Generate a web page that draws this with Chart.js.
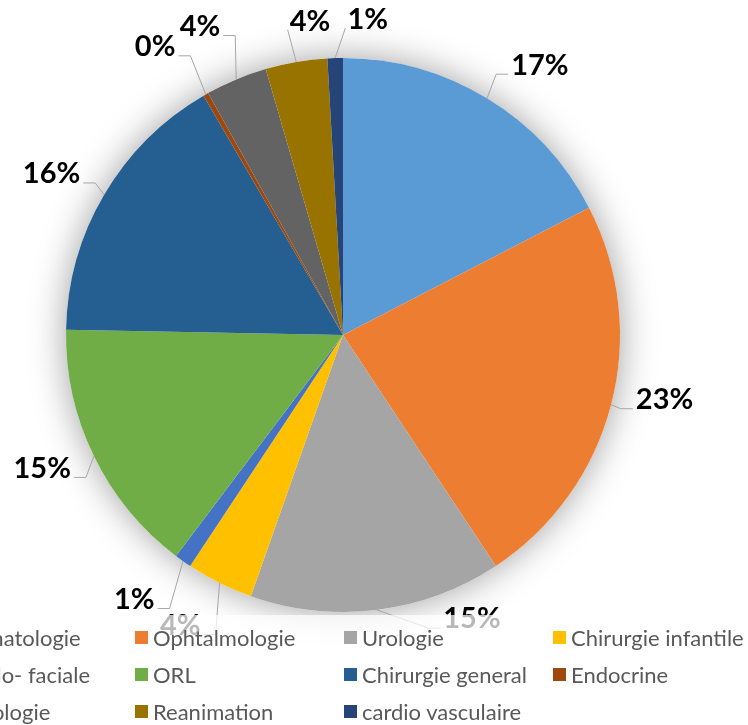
<!DOCTYPE html>
<html>
<head>
<meta charset="utf-8">
<script src="https://cdn.jsdelivr.net/npm/chart.js@4"></script>
<style>
  html, body { margin: 0; padding: 0; background: #fff; overflow: hidden; }
  #wrap { position: relative; width: 748px; height: 725px; overflow: hidden; }
  #legend {
    position: absolute; left: 0; top: 615px; width: 748px; height: 110px;
    background: rgba(255, 255, 255, 0.72);
    font-family: Lato, sans-serif; font-size: 22px; color: #595959;
  }
  .item { position: absolute; display: flex; align-items: center; white-space: nowrap; height: 24px; }
  .sw { display: inline-block; width: 13px; height: 13px; margin-right: 5px; }
</style>
</head>
<body>
<div id="wrap">
  <canvas id="pie" width="748" height="725"></canvas>
  <div id="legend"></div>
</div>
<script>
// données du graphique
const categories = ['Traumatologie', 'Ophtalmologie', 'Urologie', 'Chirurgie infantile',
  'Maxillo- faciale', 'ORL', 'Chirurgie general', 'Endocrine',
  'Neurologie', 'Reanimation', 'cardio vasculaire'];
const shares = [17.4, 23.3, 14.7, 3.9, 1.0, 15.0, 16.3, 0.3, 3.6, 3.6, 0.9];
const colors = ['#5B9BD5', '#ED7D31', '#A5A5A5', '#FFC000', '#4472C4', '#70AD47',
  '#255E91', '#9E480E', '#636363', '#997300', '#264478'];

// placement des étiquettes (décalage d'angle en degrés, distance au bord)
const labelNudge = [4.8, -3.2, -17.4, 2.8, 3, 2, -1.5, -3.4, -2.2, 3.7, 6.1];
const labelGap = [57, 51, 35, 56, 60, 52, 56, 67, 63, 38, 39];

const total = shares.reduce((a, b) => a + b, 0);

// ombre douce autour du camembert
const glowPlugin = {
  id: 'glow',
  beforeDatasetsDraw(chart) {
    const arc = chart.getDatasetMeta(0).data[0];
    if (!arc) return;
    const { x, y, outerRadius } = arc.getProps(['x', 'y', 'outerRadius'], true);
    const ctx = chart.ctx;
    ctx.save();
    ctx.shadowColor = 'rgba(0,0,0,0.38)';
    ctx.shadowBlur = 36;
    ctx.fillStyle = '#fff';
    ctx.beginPath();
    ctx.arc(x, y, outerRadius, 0, Math.PI * 2);
    ctx.fill();
    ctx.restore();
  }
};

// étiquettes de pourcentage avec lignes de rappel
const labelPlugin = {
  id: 'pctLabels',
  afterDatasetsDraw(chart) {
    const ctx = chart.ctx;
    ctx.save();
    ctx.font = 'bold 29px Lato';
    ctx.textAlign = 'center';
    ctx.textBaseline = 'middle';
    chart.getDatasetMeta(0).data.forEach((arc, i) => {
      const p = arc.getProps(['x', 'y', 'startAngle', 'endAngle', 'outerRadius'], true);
      const mid = (p.startAngle + p.endAngle) / 2;
      const ax = p.x + Math.cos(mid) * p.outerRadius;
      const ay = p.y + Math.sin(mid) * p.outerRadius;
      const la = mid + labelNudge[i] * Math.PI / 180;
      const d = p.outerRadius + labelGap[i];
      const lx = p.x + Math.cos(la) * d;
      const ly = p.y + Math.sin(la) * d;
      const txt = Math.round(shares[i] / total * 100) + '%';
      const w = ctx.measureText(txt).width;

      // ligne de rappel
      ctx.strokeStyle = '#a6a6a6';
      ctx.lineWidth = 1;
      ctx.beginPath();
      if (Math.abs(lx - p.x) < 40) {
        // étiquettes juste au-dessus : trait direct depuis le coin bas gauche
        ctx.moveTo(lx - w / 2 - 2, ly + 8);
      } else {
        const side = lx < p.x ? 1 : -1;
        const sx = lx + side * (w / 2 + 3);
        const sy = ly + 9;
        ctx.moveTo(sx, sy);
        ctx.lineTo(sx + side * 12, sy);
      }
      ctx.lineTo(ax, ay);
      ctx.stroke();

      ctx.fillStyle = '#000';
      ctx.fillText(txt, lx, ly);
    });
    ctx.restore();
  }
};

new Chart(document.getElementById('pie').getContext('2d'), {
  type: 'pie',
  data: {
    labels: categories,
    datasets: [{
      data: shares,
      backgroundColor: colors,
      borderWidth: 0,
      hoverOffset: 0
    }]
  },
  options: {
    responsive: false,
    animation: false,
    layout: { padding: { left: 66, right: 128, top: 58, bottom: 113 } },
    plugins: {
      legend: { display: false },
      tooltip: { enabled: false }
    }
  },
  plugins: [glowPlugin, labelPlugin]
});

// légende en grille (4 colonnes, comme Excel)
const legend = document.getElementById('legend');
categories.forEach((name, i) => {
  const col = i % 4;
  const row = Math.floor(i / 4);
  const item = document.createElement('div');
  item.className = 'item';
  item.style.left = (-74 + col * 209) + 'px';
  item.style.top = (10 + row * 37) + 'px';
  item.innerHTML = `<span class="sw" style="background:${colors[i]}"></span>${name}`;
  legend.appendChild(item);
});
</script>
</body>
</html>
